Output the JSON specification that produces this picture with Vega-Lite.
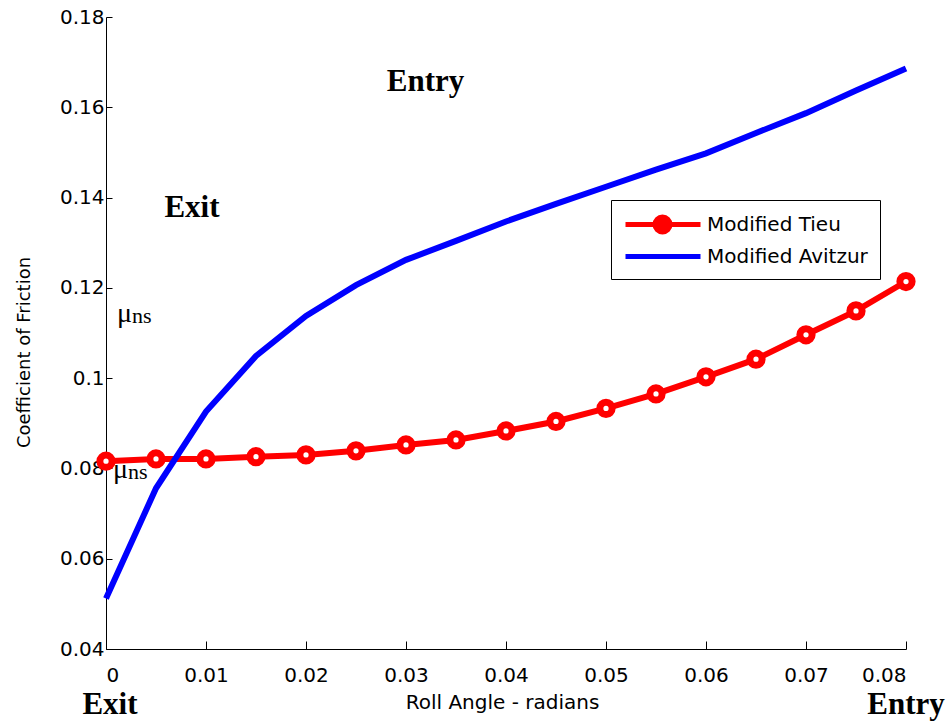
{
  "$schema": "https://vega.github.io/schema/vega-lite/v6.json",
  "width": 800,
  "height": 632,
  "autosize": {"type": "none"},
  "padding": {"left": 106, "top": 17, "right": 42, "bottom": 72},
  "background": "white",
  "config": {
    "view": {"stroke": null},
    "axis": {
      "grid": false,
      "domainColor": "black",
      "tickColor": "black",
      "labelColor": "black",
      "titleColor": "black",
      "labelFont": "DejaVu Sans",
      "titleFont": "DejaVu Sans",
      "titleFontWeight": "normal"
    }
  },
  "datasets": {
    "curves": [
      {"series": "Modified Tieu", "x": 0.000, "y": 0.0816},
      {"series": "Modified Tieu", "x": 0.005, "y": 0.0821},
      {"series": "Modified Tieu", "x": 0.010, "y": 0.0821},
      {"series": "Modified Tieu", "x": 0.015, "y": 0.0826},
      {"series": "Modified Tieu", "x": 0.020, "y": 0.0830},
      {"series": "Modified Tieu", "x": 0.025, "y": 0.0839},
      {"series": "Modified Tieu", "x": 0.030, "y": 0.0852},
      {"series": "Modified Tieu", "x": 0.035, "y": 0.0863},
      {"series": "Modified Tieu", "x": 0.040, "y": 0.0883},
      {"series": "Modified Tieu", "x": 0.045, "y": 0.0904},
      {"series": "Modified Tieu", "x": 0.050, "y": 0.0933},
      {"series": "Modified Tieu", "x": 0.055, "y": 0.0965},
      {"series": "Modified Tieu", "x": 0.060, "y": 0.1003},
      {"series": "Modified Tieu", "x": 0.065, "y": 0.1042},
      {"series": "Modified Tieu", "x": 0.070, "y": 0.1096},
      {"series": "Modified Tieu", "x": 0.075, "y": 0.1149},
      {"series": "Modified Tieu", "x": 0.080, "y": 0.1214},
      {"series": "Modified Avitzur", "x": 0.000, "y": 0.0512},
      {"series": "Modified Avitzur", "x": 0.005, "y": 0.0756},
      {"series": "Modified Avitzur", "x": 0.010, "y": 0.0926},
      {"series": "Modified Avitzur", "x": 0.015, "y": 0.1049},
      {"series": "Modified Avitzur", "x": 0.020, "y": 0.1138},
      {"series": "Modified Avitzur", "x": 0.025, "y": 0.1206},
      {"series": "Modified Avitzur", "x": 0.030, "y": 0.1262},
      {"series": "Modified Avitzur", "x": 0.035, "y": 0.1304},
      {"series": "Modified Avitzur", "x": 0.040, "y": 0.1347},
      {"series": "Modified Avitzur", "x": 0.045, "y": 0.1386},
      {"series": "Modified Avitzur", "x": 0.050, "y": 0.1424},
      {"series": "Modified Avitzur", "x": 0.055, "y": 0.1462},
      {"series": "Modified Avitzur", "x": 0.060, "y": 0.1498},
      {"series": "Modified Avitzur", "x": 0.065, "y": 0.1543},
      {"series": "Modified Avitzur", "x": 0.070, "y": 0.1587},
      {"series": "Modified Avitzur", "x": 0.075, "y": 0.1637},
      {"series": "Modified Avitzur", "x": 0.080, "y": 0.1686}
    ],
    "ann": [
      {"x": 0.0004, "y": 0.0256, "t": "Exit"},
      {"x": 0.0800, "y": 0.0256, "t": "Entry"},
      {"x": 0.03195, "y": 0.1636, "t": "Entry"},
      {"x": 0.0086, "y": 0.1358, "t": "Exit"}
    ],
    "mu": [
      {"x": 0.0011, "y": 0.1124, "m": "μ", "s": "ns"},
      {"x": 0.0007, "y": 0.0779, "m": "μ", "s": "ns"}
    ]
  },
  "encoding": {
    "x": {
      "field": "x",
      "type": "quantitative",
      "scale": {"domain": [0, 0.08], "nice": false, "zero": false},
      "axis": {
        "values": [0, 0.01, 0.02, 0.03, 0.04, 0.05, 0.06, 0.07, 0.08],
        "format": ".2~f",
        "labelFontSize": 20,
        "labelPadding": 24,
        "tickSize": -8,
        "title": "Roll Angle - radians",
        "titleFontSize": 20,
        "titleX": 396,
        "titleY": 59,
        "titleBaseline": "alphabetic",
        "titleAlign": "center"
      }
    },
    "y": {
      "field": "y",
      "type": "quantitative",
      "scale": {"domain": [0.04, 0.18], "nice": false, "zero": false},
      "axis": {
        "values": [0.04, 0.06, 0.08, 0.1, 0.12, 0.14, 0.16, 0.18],
        "format": ".2~f",
        "labelFontSize": 20,
        "labelPadding": 8,
        "tickSize": -6,
        "title": "Coefficient of Friction",
        "titleFontSize": 18,
        "titleX": -82,
        "titleY": 335,
        "titleAngle": -90,
        "titleBaseline": "middle",
        "titleAlign": "center"
      }
    }
  },
  "layer": [
    {
      "data": {"name": "curves"},
      "transform": [{"filter": "datum.series == 'Modified Tieu'"}],
      "mark": {"type": "line", "color": "#ff0000", "strokeWidth": 6}
    },
    {
      "data": {"name": "curves"},
      "transform": [{"filter": "datum.series == 'Modified Tieu'"}],
      "mark": {"type": "point", "shape": "circle", "size": 150, "fill": "white", "stroke": "#ff0000", "strokeWidth": 7, "opacity": 1}
    },
    {
      "data": {"name": "curves"},
      "transform": [{"filter": "datum.series == 'Modified Avitzur'"}],
      "mark": {"type": "line", "color": "#0000ff", "strokeWidth": 6}
    },
    {
      "data": {"name": "curves"},
      "transform": [{"filter": "datum.series == 'none'"}],
      "mark": {"type": "point", "strokeWidth": 5, "size": 400, "opacity": 1},
      "encoding": {
        "fill": {
          "field": "series",
          "type": "nominal",
          "scale": {"domain": ["Modified Tieu", "Modified Avitzur"], "range": ["#ff0000", "#0000ff"]},
          "legend": {
            "orient": "none",
            "legendX": 505,
            "legendY": 183,
            "title": null,
            "strokeColor": "black",
            "fillColor": "white",
            "padding": 12,
            "labelFont": "DejaVu Sans",
            "labelFontSize": 20,
            "labelColor": "black",
            "labelLimit": 400,
            "labelOffset": 59,
            "rowPadding": 1,
            "symbolSize": 400,
            "symbolStrokeWidth": 5,
            "symbolOpacity": 1
          }
        },
        "stroke": {
          "field": "series",
          "type": "nominal",
          "scale": {"domain": ["Modified Tieu", "Modified Avitzur"], "range": ["#ff0000", "#0000ff"]}
        },
        "shape": {
          "field": "series",
          "type": "nominal",
          "scale": {
            "domain": ["Modified Tieu", "Modified Avitzur"],
            "range": [
              "M-1,0H6.5M3.45,0A0.75,0.75 0 1,1 1.95,0A0.75,0.75 0 1,1 3.45,0Z",
              "M-1,0H6.5"
            ]
          }
        }
      }
    },
    {
      "data": {"name": "ann"},
      "mark": {"type": "text", "font": "Liberation Serif", "fontWeight": "bold", "fontSize": 31, "align": "center", "baseline": "alphabetic", "color": "black"},
      "encoding": {"text": {"field": "t"}}
    },
    {
      "data": {"name": "mu"},
      "mark": {"type": "text", "font": "Liberation Serif", "fontSize": 28, "align": "left", "baseline": "alphabetic", "color": "black"},
      "encoding": {"text": {"field": "m"}}
    },
    {
      "data": {"name": "mu"},
      "mark": {"type": "text", "font": "Liberation Serif", "fontSize": 22, "align": "left", "baseline": "alphabetic", "dx": 15, "dy": 1, "color": "black"},
      "encoding": {"text": {"field": "s"}}
    }
  ]
}
